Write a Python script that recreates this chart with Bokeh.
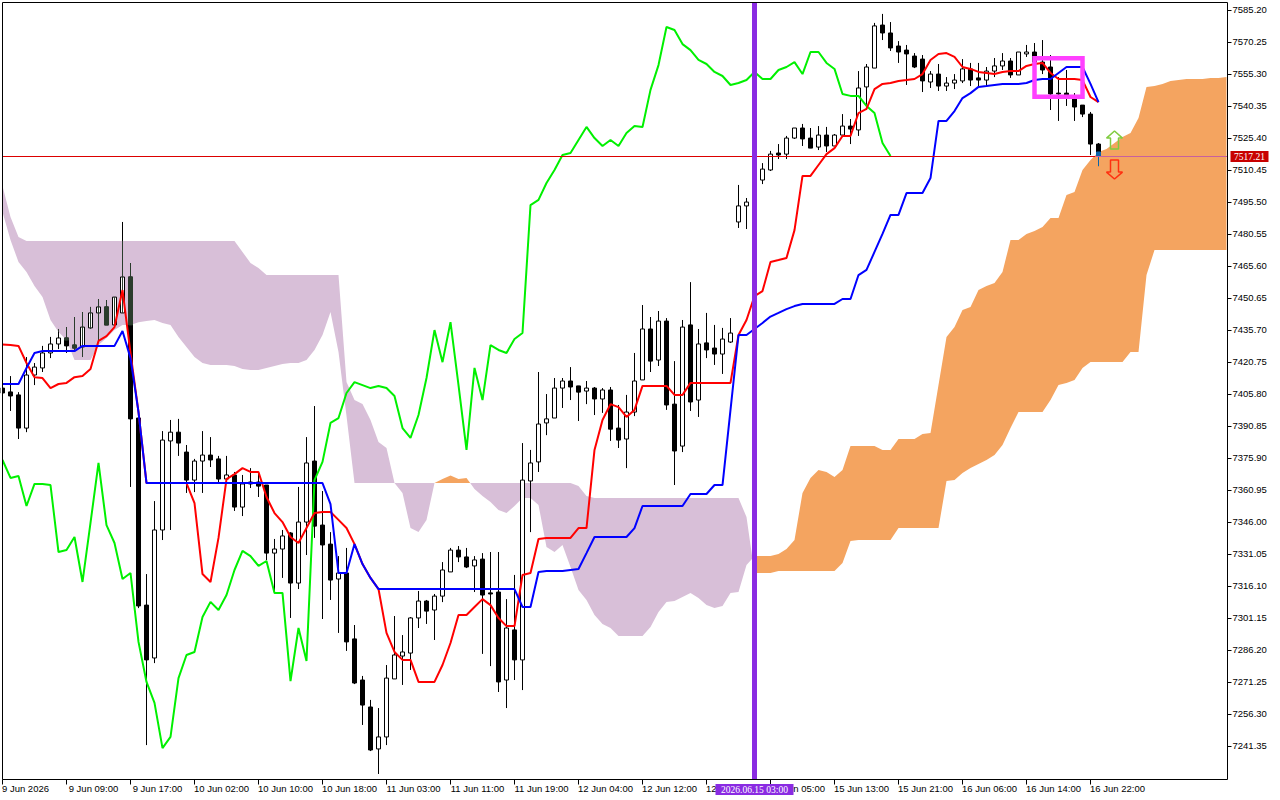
from bokeh.plotting import figure
from bokeh.models import FixedTicker, PrintfTickFormatter
from bokeh.embed import file_html
from bokeh.resources import INLINE

opens = [
 7408.8,7407.0,7405.6,7390.1,7414.9,7418.2,7425.2,7429.4,7432.2,7428.9,
 7428.0,7436.9,7443.9,7446.7,7438.3,7443.9,7460.7,7394.8,7307.4,7282.7,
 7342.5,7384.1,7388.2,7378.9,7365.8,7374.7,7377.5,7375.7,7366.3,7368.2,
 7353.2,7364.9,7364.9,7363.5,7331.7,7333.6,7341.1,7317.7,7346.2,7374.7,
 7344.8,7335.9,7319.6,7322.4,7291.6,7272.4,7259.8,7240.2,7245.8,7272.9,
 7283.6,7285.0,7301.4,7309.3,7305.1,7311.6,7322.9,7333.1,7329.9,7325.7,
 7328.9,7313.1,7313.5,7272.4,7295.8,7281.8,7365.4,7374.3,7392.5,7394.8,
 7408.8,7412.1,7409.8,7407.4,7408.8,7403.7,7407.9,7390.1,7385.0,7397.6,
 7412.6,7436.4,7421.9,7440.1,7401.3,7381.7,7438.3,7403.2,7429.9,7427.5,
 7424.7,7430.3,7486.4,7493.9,7495.7,7506.0,7510.7,7518.6,7518.1,7525.6,
 7530.3,7525.6,7521.4,7527.0,7521.9,7527.0,7531.2,7529.4,7549.5,7558.3,
 7578.4,7574.7,7568.6,7566.7,7563.9,7562.5,7551.8,7555.5,7549.9,7551.3,
 7552.3,7557.9,7553.7,7552.7,7556.9,7559.3,7561.6,7555.1,7564.9,7565.8,
 7561.1,7558.8,7546.6,7546.6,7544.8,7541.0,7536.8,7522.8]
highs = [
 7409.8,7414.4,7406.9,7423.3,7420.5,7428.5,7432.7,7436.4,7437.3,7442.0,
 7444.3,7446.7,7450.4,7449.9,7451.3,7486.4,7467.2,7395.3,7321.9,7356.0,
 7388.7,7393.9,7394.4,7382.2,7375.7,7388.7,7385.9,7377.1,7377.1,7369.6,
 7368.2,7371.4,7369.1,7363.5,7338.3,7342.5,7341.5,7362.6,7385.9,7400.4,
 7360.7,7341.5,7330.3,7334.1,7298.1,7274.3,7263.1,7259.3,7279.4,7302.3,
 7293.4,7301.8,7314.0,7309.8,7312.6,7327.5,7334.1,7335.0,7334.1,7330.3,
 7331.7,7332.2,7332.2,7310.2,7321.5,7383.1,7379.9,7416.3,7406.0,7413.5,
 7413.5,7418.6,7409.8,7412.1,7409.3,7408.8,7409.3,7400.9,7405.6,7425.2,
 7447.6,7442.0,7444.8,7441.5,7421.4,7440.6,7458.3,7436.4,7443.9,7438.3,
 7436.9,7441.5,7503.7,7497.6,7507.9,7513.9,7519.6,7522.8,7526.6,7530.3,
 7532.2,7530.3,7531.2,7530.8,7527.5,7536.8,7534.5,7556.9,7560.2,7579.4,
 7583.6,7579.8,7570.9,7569.1,7565.3,7564.4,7556.9,7560.2,7554.1,7555.5,
 7562.5,7560.7,7560.7,7558.8,7563.0,7565.3,7563.0,7565.8,7569.1,7570.0,
 7571.4,7564.4,7554.1,7557.4,7546.6,7541.0,7537.8,7523.3]
lows = [
 7405.6,7398.1,7385.0,7388.2,7410.2,7416.3,7422.8,7427.0,7425.2,7426.6,
 7423.3,7436.4,7430.3,7438.3,7438.3,7443.9,7362.6,7306.0,7242.0,7280.3,
 7337.8,7342.5,7377.1,7359.8,7360.2,7359.8,7371.9,7364.4,7364.4,7351.4,
 7349.0,7362.1,7357.9,7328.4,7313.5,7320.1,7301.4,7314.9,7330.8,7338.8,
 7300.9,7309.8,7294.4,7286.0,7270.5,7251.4,7239.2,7228.5,7242.0,7272.9,
 7270.1,7277.1,7296.7,7298.6,7291.1,7308.8,7322.9,7327.5,7324.7,7313.5,
 7284.6,7278.9,7266.8,7259.3,7272.4,7267.7,7341.5,7369.6,7386.8,7394.8,
 7399.5,7403.2,7393.4,7401.3,7396.2,7397.2,7384.1,7380.8,7371.4,7395.7,
 7412.6,7416.3,7419.1,7398.6,7363.5,7378.9,7398.1,7395.3,7422.8,7419.6,
 7415.4,7429.9,7483.6,7483.1,7494.8,7504.1,7510.2,7515.8,7515.8,7525.2,
 7521.9,7520.9,7520.0,7519.1,7521.9,7527.0,7522.8,7526.6,7538.7,7558.3,
 7571.4,7566.3,7560.7,7550.4,7558.3,7547.1,7549.0,7547.6,7547.6,7548.5,
 7551.3,7549.9,7549.0,7549.5,7554.1,7557.4,7553.7,7555.1,7563.5,7560.2,
 7555.5,7538.7,7533.6,7540.6,7533.6,7535.4,7517.7,7512.5]
closes = [
 7406.5,7405.1,7390.1,7414.9,7418.6,7425.2,7429.4,7432.2,7428.5,7427.5,
 7437.3,7443.9,7446.7,7438.3,7451.3,7460.7,7394.4,7307.0,7281.8,7342.5,
 7384.5,7388.2,7383.1,7365.8,7374.7,7377.5,7375.2,7366.3,7368.2,7353.2,
 7364.0,7364.0,7363.0,7331.7,7333.6,7339.7,7317.7,7346.2,7373.8,7344.3,
 7335.5,7319.1,7322.4,7290.2,7271.0,7260.7,7239.7,7245.8,7273.3,7284.1,
 7285.5,7301.4,7309.3,7304.6,7311.6,7323.8,7333.1,7329.9,7325.2,7328.5,
 7312.1,7312.6,7271.5,7296.7,7281.8,7365.8,7373.8,7392.0,7394.4,7408.8,
 7412.1,7409.3,7406.9,7408.8,7403.7,7407.9,7389.6,7384.5,7397.6,7412.1,
 7436.4,7421.4,7440.1,7400.9,7379.4,7437.3,7402.3,7429.4,7426.6,7424.7,
 7431.7,7434.5,7493.9,7495.7,7506.0,7511.1,7518.1,7517.7,7525.6,7530.3,
 7525.2,7520.9,7527.0,7521.9,7527.0,7531.2,7529.8,7549.0,7558.8,7578.0,
 7574.7,7567.7,7565.8,7564.9,7558.8,7552.3,7555.5,7549.9,7551.3,7552.7,
 7557.9,7552.7,7552.7,7556.9,7559.3,7561.6,7555.1,7565.8,7565.8,7561.1,
 7557.4,7546.2,7546.2,7545.7,7540.1,7536.8,7522.8,7517.21]

tenkan = [
 7429.1,7428.9,7428.5,7420.5,7413.9,7413.5,7408.8,7410.7,7411.2,7413.9,
 7414.4,7417.7,7430.8,7433.1,7437.3,7454.6,7425.2,7397.6,7364.4,7364.4,
 7364.4,7364.4,7364.4,7364.4,7355.1,7321.9,7318.2,7338.8,7366.3,7368.6,
 7371.4,7369.6,7369.6,7357.9,7350.4,7346.2,7339.2,7336.4,7343.4,7350.4,
 7350.9,7350.9,7347.2,7343.4,7335.9,7326.6,7320.1,7314.9,7294.4,7285.5,
 7281.8,7281.8,7271.5,7271.5,7271.5,7279.4,7289.7,7302.8,7302.8,7306.5,
 7310.2,7307.4,7301.4,7297.6,7297.6,7321.5,7322.4,7338.3,7338.8,7338.8,
 7338.8,7338.8,7343.4,7343.4,7379.9,7393.9,7401.3,7399.9,7395.3,7398.6,
 7409.8,7409.8,7409.8,7409.8,7405.6,7405.6,7411.2,7411.2,7411.2,7411.2,
 7411.2,7411.2,7433.6,7440.6,7451.8,7454.1,7467.7,7468.6,7469.6,7482.6,
 7507.9,7507.9,7513.0,7518.1,7520.9,7526.6,7526.6,7537.3,7539.2,7548.5,
 7550.9,7551.3,7552.3,7552.7,7553.2,7555.5,7562.1,7564.9,7565.3,7563.5,
 7558.8,7557.9,7556.5,7556.0,7555.5,7556.5,7556.9,7556.9,7559.3,7560.2,
 7560.7,7556.0,7553.2,7553.2,7553.2,7552.7,7544.8,7542.4]
kijun = [
 7410.7,7410.7,7410.7,7418.2,7425.2,7426.1,7426.1,7426.1,7426.1,7426.1,
 7428.5,7428.5,7428.5,7428.5,7428.5,7435.5,7422.8,7397.6,7364.4,7364.4,
 7364.4,7364.4,7364.4,7364.4,7364.4,7364.4,7364.4,7364.4,7364.4,7364.4,
 7364.4,7364.4,7364.4,7364.4,7364.4,7364.4,7364.4,7364.4,7364.4,7364.4,
 7364.4,7354.6,7322.4,7322.4,7335.9,7326.6,7320.1,7314.9,7314.9,7314.9,
 7314.9,7314.9,7314.9,7314.9,7314.9,7314.9,7314.9,7314.9,7314.9,7314.9,
 7314.9,7314.9,7314.9,7314.9,7314.9,7306.5,7306.5,7322.9,7323.3,7323.3,
 7323.3,7323.8,7324.3,7331.7,7339.2,7339.2,7339.2,7339.2,7339.2,7343.4,
 7353.7,7353.7,7353.7,7353.7,7353.7,7353.7,7359.3,7359.3,7359.3,7363.5,
 7363.5,7398.6,7433.6,7433.6,7436.4,7439.2,7442.2,7443.9,7445.7,7447.1,
 7448.1,7448.1,7448.1,7448.1,7448.1,7450.4,7450.4,7461.6,7464.0,7472.4,
 7480.8,7489.7,7489.7,7499.9,7499.9,7499.9,7506.9,7533.6,7533.6,7538.2,
 7544.3,7546.6,7549.5,7549.9,7550.4,7550.9,7550.9,7550.9,7551.3,7552.7,
 7553.2,7553.2,7556.0,7558.8,7558.8,7558.8,7550.9,7542.4]
chikou = [
 7375.2,7366.8,7367.7,7353.7,7364.0,7364.0,7363.5,7332.2,7333.1,7339.2,
 7318.2,7345.8,7373.8,7344.8,7336.4,7319.6,7322.4,7290.2,7271.5,7261.7,
 7240.6,7245.8,7273.3,7284.1,7285.5,7301.8,7308.9,7305.1,7312.1,7323.8,
 7332.7,7330.3,7325.7,7328.0,7313.1,7313.1,7271.9,7296.7,7281.3,7365.8,
 7374.3,7392.5,7394.8,7406.5,7411.6,7410.2,7408.8,7409.8,7408.8,7405.1,
 7390.1,7385.5,7396.2,7413.5,7435.9,7420.9,7439.6,7410.2,7379.9,7418.2,
 7403.2,7428.9,7426.6,7425.2,7431.7,7434.5,7494.3,7496.7,7504.6,7510.7,
 7517.7,7518.6,7524.7,7530.8,7525.6,7521.9,7524.7,7521.9,7528.0,7531.2,
 7530.8,7548.1,7559.7,7577.5,7576.1,7569.5,7566.7,7562.1,7560.2,7556.5,
 7554.6,7550.4,7551.3,7552.7,7556.5,7553.2,7553.2,7557.4,7558.8,7561.1,
 7555.5,7565.8,7565.8,7560.7,7557.9,7546.2,7545.3,7545.3,7540.6,7537.3,
 7523.3,7517.2]
senkou_a = [
 7491.1,7478.0,7467.7,7463.0,7456.5,7451.3,7440.6,7435.0,7431.2,7421.9,
 7421.9,7421.9,7428.9,7432.2,7435.9,7438.3,7438.3,7439.6,7440.1,7440.6,
 7439.2,7438.3,7432.7,7428.0,7423.3,7420.5,7419.6,7419.6,7419.6,7419.1,
 7417.7,7417.2,7417.2,7418.2,7419.1,7420.0,7420.5,7420.5,7421.9,7426.6,
 7433.6,7444.3,7425.7,7395.7,7364.4,7364.4,7364.4,7364.4,7364.4,7364.4,
 7359.8,7343.4,7341.5,7347.2,7364.4,7366.3,7367.9,7366.3,7366.8,7361.6,
 7358.4,7355.6,7351.8,7350.4,7353.7,7357.4,7357.4,7354.2,7334.6,7332.2,
 7335.5,7325.2,7314.5,7309.8,7302.8,7298.6,7296.7,7293.0,7293.0,7293.0,
 7293.0,7297.2,7304.2,7308.9,7309.3,7311.2,7313.1,7310.7,7307.4,7306.0,
 7307.0,7313.1,7313.5,7326.1,7330.3,7330.3,7330.3,7331.3,7333.6,7337.8,
 7359.8,7366.8,7370.5,7369.6,7367.2,7370.5,7381.7,7381.7,7381.7,7381.7,
 7379.9,7379.9,7385.0,7385.0,7385.0,7387.3,7387.8,7410.2,7432.7,7437.3,
 7445.3,7446.7,7454.6,7456.5,7457.9,7463.0,7478.0,7478.0,7480.8,7482.2,
 7484.0,7488.3,7488.3,7499.0,7500.4,7510.7,7515.4,7519.1,7520.5,7523.3,
 7526.1,7528.0,7535.0,7549.5,7549.9,7550.9,7552.3,7552.7,7553.2,7553.2,
 7553.2,7553.7,7553.7,7554.1]
senkou_b = [
 7503.2,7488.7,7479.4,7477.5,7477.5,7477.5,7477.5,7477.5,7477.5,7477.5,
 7477.5,7477.5,7477.5,7477.5,7477.5,7477.5,7477.5,7477.5,7477.5,7477.5,
 7477.5,7477.5,7477.5,7477.5,7477.5,7477.5,7477.5,7477.5,7477.5,7477.5,
 7472.4,7467.2,7464.9,7461.6,7461.6,7461.6,7461.6,7461.6,7461.6,7461.6,
 7461.6,7461.6,7461.6,7411.6,7403.2,7401.3,7393.9,7383.6,7380.8,7364.4,
 7364.4,7364.4,7364.4,7364.4,7364.4,7364.4,7364.4,7364.4,7364.4,7364.4,
 7364.4,7364.4,7364.4,7364.4,7364.4,7364.4,7364.4,7364.4,7364.4,7364.4,
 7364.4,7364.4,7363.0,7358.4,7357.4,7357.4,7357.4,7357.4,7357.4,7357.4,
 7357.4,7357.4,7357.4,7357.4,7357.4,7357.4,7357.4,7357.4,7357.4,7357.4,
 7357.4,7357.4,7357.4,7348.6,7322.4,7322.4,7322.4,7323.3,7323.3,7323.3,
 7323.3,7323.3,7323.3,7323.3,7323.3,7327.1,7337.4,7337.8,7337.8,7337.8,
 7337.8,7337.8,7343.4,7343.4,7343.4,7343.4,7343.4,7343.4,7365.4,7365.8,
 7369.1,7371.4,7373.3,7375.2,7377.5,7382.2,7390.1,7397.6,7397.6,7397.6,
 7397.6,7403.2,7410.2,7411.2,7412.6,7418.2,7421.0,7421.0,7421.0,7421.0,
 7421.0,7425.7,7425.7,7461.6,7473.3,7473.3,7473.3,7473.3,7473.3,7473.3,
 7473.3,7473.3,7473.3,7473.3]

price_ticks = [7585.20,7570.25,7555.30,7540.35,7525.40,7510.45,7495.50,7480.55,
               7465.60,7450.65,7435.70,7420.75,7405.80,7390.85,7375.90,7360.95,
               7346.00,7331.05,7316.10,7301.15,7286.20,7271.25,7256.30,7241.35]
time_ticks = [0,8,16,24,32,40,48,56,64,72,80,88,96,104,112,120,128,136]
time_labels = ["9 Jun 2026","9 Jun 09:00","9 Jun 17:00","10 Jun 02:00","10 Jun 10:00",
               "10 Jun 18:00","11 Jun 03:00","11 Jun 11:00","11 Jun 19:00","12 Jun 04:00",
               "12 Jun 12:00","12 Jun 20:00","15 Jun 05:00","15 Jun 13:00","15 Jun 21:00",
               "16 Jun 06:00","16 Jun 14:00","16 Jun 22:00"]
last_price_text = "7517.21"
last_price_line = 7516.98
cursor_bar = 94
cursor_text = "2026.06.15 03:00"
box_bars = [129, 135]
box_prices = [7544.9, 7562.9]
buy_arrow_prices = [7528.9, 7525.6, 7520.5]
sell_arrow_prices = [7515.3, 7509.7, 7506.5]
arrow_bar = 139

FONT = "Liberation Sans"
PURPLE = "#8A2BE2"

# The plotting area is the whole picture; the chart's own window is the box drawn inside it,
# so the price and date tags beside that window can be drawn like any other mark.
WIN_L, WIN_R, WIN_B, WIN_T = 0, 153.125, 7225.92, 7588.93

p = figure(width=1280, height=800, frame_width=1280, frame_height=800,
           x_range=(-0.25, 159.75), y_range=(7216.11, 7589.87),
           y_axis_location="right", output_backend="svg", toolbar_location=None,
           min_border=0, background_fill_color="white", border_fill_color="white",
           styles={"margin": "0"})
p.grid.visible = False
p.outline_line_color = None

ya = p.yaxis[0]
ya.fixed_location = WIN_R
ya.ticker = FixedTicker(ticks=price_ticks)
ya.formatter = PrintfTickFormatter(format="%.2f")
ya.major_tick_in = 0
ya.major_tick_out = 4
ya.minor_tick_line_color = None
ya.major_tick_line_color = "black"
ya.axis_line_color = None
ya.major_label_standoff = 1
ya.major_label_text_font = FONT
ya.major_label_text_font_size = "9.5px"
ya.major_label_text_color = "black"

# the tick marks are minor ticks, the labels sit on major ticks just right of them
label_pos = [t + (2.875 if i == 0 else 3.375) for i, t in enumerate(time_ticks)]
xa = p.xaxis[0]
xa.fixed_location = WIN_B
xa.ticker = FixedTicker(ticks=label_pos, minor_ticks=time_ticks)
xa.major_label_overrides = dict(zip(label_pos, time_labels))
xa.major_tick_line_color = None
xa.major_tick_in = 0
xa.major_tick_out = 0
xa.minor_tick_in = 0
xa.minor_tick_out = 5
xa.minor_tick_line_color = "black"
xa.axis_line_color = None
xa.major_label_standoff = -2
xa.major_label_text_font = FONT
xa.major_label_text_font_size = "9.5px"
xa.major_label_text_color = "black"

# cloud: one area per run of the same sign, split where the spans cross
bars = list(range(len(senkou_a)))
run_x, run_a, run_b, run_up = [], [], [], None
runs = []
for i in bars:
    a, b = senkou_a[i], senkou_b[i]
    up = a > b if a != b else run_up
    if run_up is not None and up != run_up:
        d0 = senkou_a[i-1] - senkou_b[i-1]
        d1 = a - b
        t = d0 / (d0 - d1)
        xc = i - 1 + t
        yc = senkou_a[i-1] + t * (a - senkou_a[i-1])
        runs.append((run_x + [xc], run_a + [yc], run_b + [yc], run_up))
        run_x, run_a, run_b = [xc], [yc], [yc]
    run_x.append(i); run_a.append(a); run_b.append(b)
    run_up = up
runs.append((run_x, run_a, run_b, run_up))
for xs, aa, bb, up in runs:
    p.varea(x=xs, y1=aa, y2=bb, fill_color="#F4A460" if up else "#D8BFD8", fill_alpha=1)

# candles
k = list(range(len(opens)))
p.segment(x0=k, y0=lows, x1=k, y1=highs, line_color="black", line_width=1)
up_k = [i for i in k if closes[i] >= opens[i]]
dn_k = [i for i in k if closes[i] < opens[i]]
p.vbar(x=up_k, width=0.5, top=[closes[i] for i in up_k], bottom=[opens[i] for i in up_k],
       fill_color="white", line_color="black", line_width=1)
p.vbar(x=dn_k, width=0.5, top=[opens[i] for i in dn_k], bottom=[closes[i] for i in dn_k],
       fill_color="black", line_color="black", line_width=1)

# where the candles of the opening bars lie inside the purple cloud they look dark green
TINT = "#2A3C2C"
tx0, ty0, ty1, bx, bt, bb_ = [], [], [], [], [], []
for i in k[:20]:
    lo, hi = min(senkou_a[i], senkou_b[i]), max(senkou_a[i], senkou_b[i])
    a0, a1 = max(lows[i], lo), min(highs[i], hi)
    if a1 > a0:
        tx0.append(i); ty0.append(a0); ty1.append(a1)
    if closes[i] < opens[i]:
        c0, c1 = max(closes[i], lo), min(opens[i], hi)
        if c1 > c0:
            bx.append(i); bt.append(c1); bb_.append(c0)
p.segment(x0=tx0, y0=ty0, x1=tx0, y1=ty1, line_color=TINT, line_width=1)
p.vbar(x=bx, width=0.5, top=bt, bottom=bb_, fill_color=TINT, line_color=TINT, line_width=1)

# last candle: its part over the orange cloud appears blue
last = k[-1]
p.segment(x0=[last], y0=[lows[last]], x1=[last], y1=[closes[last]], line_color="#0A64AA", line_width=1)
p.vbar(x=[last], width=0.5, top=[senkou_a[last]], bottom=[closes[last]],
       fill_color="#0A64AA", line_color="#0A64AA", line_width=1)

# ichimoku lines
p.line(list(range(len(chikou))), chikou, line_color="#00F000", line_width=2)
p.line(list(range(len(tenkan))), tenkan, line_color="#FF0000", line_width=2)
p.line(list(range(len(kijun))), kijun, line_color="#0000FF", line_width=2)

# bid line, recoloured where it runs over the cloud
p.segment(x0=[WIN_L, 136.6], y0=[last_price_line]*2, x1=[136.6, WIN_R], y1=[last_price_line]*2,
          line_color=["#DC0000", "#C8609E"], line_width=1)

# highlighted box
p.quad(left=[box_bars[0]], right=[box_bars[1]], bottom=[box_prices[0]], top=[box_prices[1]],
       fill_color=None, line_color="#FF40FF", line_width=4.5, line_join="miter")

# arrows
t, h, b = buy_arrow_prices
p.patch(x=[arrow_bar, arrow_bar+1, arrow_bar+0.5, arrow_bar+0.5, arrow_bar-0.5, arrow_bar-0.5, arrow_bar-1],
        y=[t, h, h, b, b, h, h], fill_color=None, line_color="#80CC40", line_width=1.5)
t, h, b = sell_arrow_prices
p.patch(x=[arrow_bar, arrow_bar+1, arrow_bar+0.5, arrow_bar+0.5, arrow_bar-0.5, arrow_bar-0.5, arrow_bar-1],
        y=[b, h, h, t, t, h, h], fill_color=None, line_color="#FF3010", line_width=1.5)

# cursor line
p.segment(x0=[cursor_bar], y0=[WIN_B], x1=[cursor_bar], y1=[WIN_T], line_color=PURPLE, line_width=5)

# nothing of the first candle shows left of the window; window frame on top
p.quad(left=[-0.25], right=[WIN_L], bottom=[WIN_B], top=[WIN_T], fill_color="white", line_color=None)
p.quad(left=[WIN_L], right=[WIN_R], bottom=[WIN_B], top=[WIN_T], fill_color=None,
       line_color="black", line_width=1)

# date tag and last price tag, above the axis texts
p.quad(left=[89.125, 153.5], right=[98.875, 158.25], bottom=[7218.7, 7514.4], top=[7223.8, 7519.6],
       fill_color=[PURPLE, "#C80000"], line_color=None, level="overlay")
p.text(x=[cursor_bar, 155.875], y=[7221.2, last_price_line], text=[cursor_text, last_price_text],
       text_color="white", text_font=FONT, text_font_size="9.5px", text_align="center",
       text_baseline="middle", level="overlay")

open("out.html", "w").write(file_html(p, INLINE))
